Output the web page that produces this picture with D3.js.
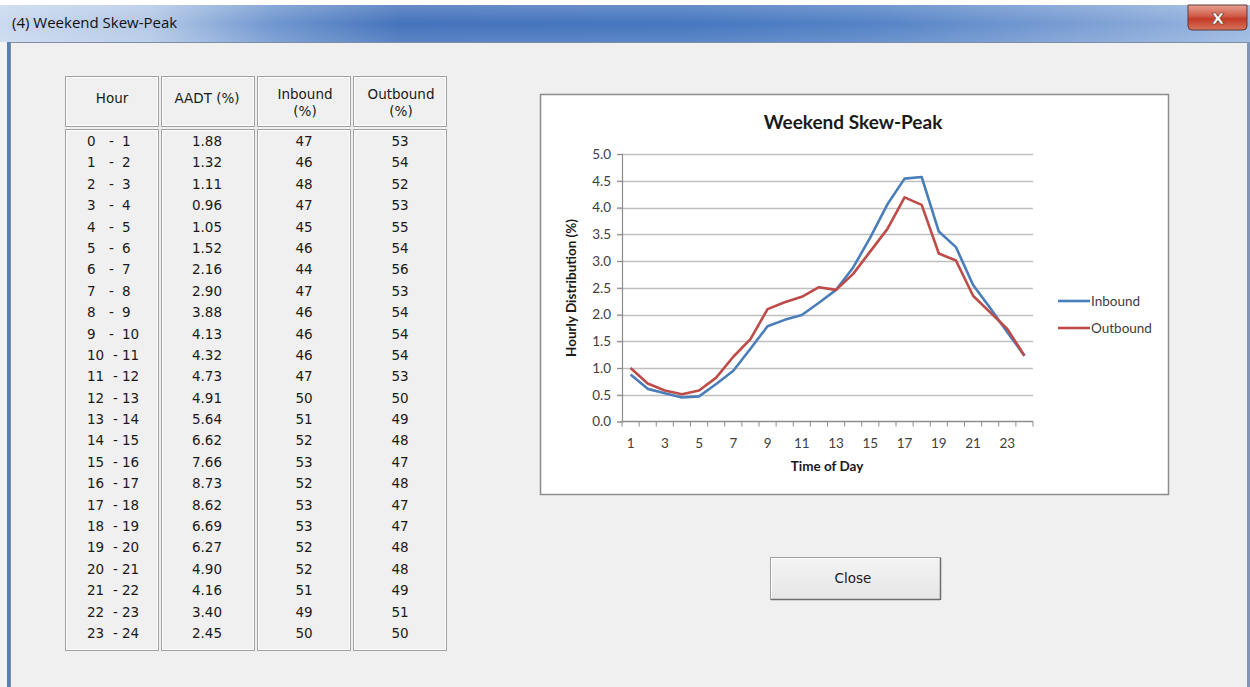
<!DOCTYPE html>
<html>
<head>
<meta charset="utf-8">
<script src="https://cdn.jsdelivr.net/npm/d3@7"></script>
<style>
  html, body { margin: 0; padding: 0; background: #f0f0f0; }
  svg { display: block; }
</style>
</head>
<body>
<svg id="root" width="1250" height="687"></svg>
<script>
// ---------- data ----------
const windowTitle = "(4) Weekend Skew-Peak";
const chartTitle = "Weekend Skew-Peak";
const tableHeaders = [["Hour"], ["AADT (%)"], ["Inbound", "(%)"], ["Outbound", "(%)"]];
const hourStart = [0,1,2,3,4,5,6,7,8,9,10,11,12,13,14,15,16,17,18,19,20,21,22,23];
const hourEnd   = [1,2,3,4,5,6,7,8,9,10,11,12,13,14,15,16,17,18,19,20,21,22,23,24];
const aadt = ["1.88","1.32","1.11","0.96","1.05","1.52","2.16","2.90","3.88","4.13","4.32","4.73","4.91","5.64","6.62","7.66","8.73","8.62","6.69","6.27","4.90","4.16","3.40","2.45"];
const inboundPct  = [47,46,48,47,45,46,44,47,46,46,46,47,50,51,52,53,52,53,53,52,52,51,49,50];
const outboundPct = [53,54,52,53,55,54,56,53,54,54,54,53,50,49,48,47,48,47,47,48,48,49,51,50];
// chart series (hourly distribution, %)
const timeOfDay = [1,2,3,4,5,6,7,8,9,10,11,12,13,14,15,16,17,18,19,20,21,22,23,24];
const inboundSeries  = [0.88,0.61,0.53,0.45,0.47,0.70,0.95,1.36,1.78,1.90,1.99,2.22,2.46,2.88,3.44,4.06,4.54,4.57,3.55,3.26,2.55,2.12,1.67,1.23];
const outboundSeries = [1.00,0.71,0.58,0.51,0.58,0.82,1.21,1.54,2.10,2.23,2.33,2.51,2.46,2.76,3.18,3.60,4.19,4.05,3.14,3.01,2.35,2.04,1.73,1.23];
const yTicks = [0,0.5,1,1.5,2,2.5,3,3.5,4,4.5,5];
const xTickLabels = [1,3,5,7,9,11,13,15,17,19,21,23];
const seriesNames = ["Inbound", "Outbound"];
const seriesColors = ["#4a7ebb", "#be4b48"];
const buttonLabel = "Close";

const svg = d3.select("#root");
const defs = svg.append("defs");

// ---------- window chrome ----------
svg.append("rect").attr("x",0).attr("y",0).attr("width",1250).attr("height",687).attr("fill","#f0f0f0");
svg.append("rect").attr("x",0).attr("y",0).attr("width",1250).attr("height",5).attr("fill","#ffffff");

const tg = defs.append("linearGradient").attr("id","titleGrad").attr("x1","0").attr("x2","1").attr("y1","0").attr("y2","0");
[["0%","#c9d9ee"],["12%","#b4c9e7"],["22%","#6f96cf"],["32%","#4573bb"],["55%","#4677bf"],["70%","#5583c6"],["88%","#7ea1d5"],["100%","#9ab7e1"]]
  .forEach(([o,c]) => tg.append("stop").attr("offset",o).attr("stop-color",c));
svg.append("rect").attr("x",0).attr("y",5).attr("width",1250).attr("height",37).attr("fill","url(#titleGrad)");
const tv = defs.append("linearGradient").attr("id","titleShade").attr("x1","0").attr("x2","0").attr("y1","0").attr("y2","1");
tv.append("stop").attr("offset","0%").attr("stop-color","#ffffff").attr("stop-opacity",0.18);
tv.append("stop").attr("offset","50%").attr("stop-color","#ffffff").attr("stop-opacity",0.0);
tv.append("stop").attr("offset","100%").attr("stop-color","#ffffff").attr("stop-opacity",0.12);
svg.append("rect").attr("x",0).attr("y",5).attr("width",1250).attr("height",37).attr("fill","url(#titleShade)");

// left / right blue borders
svg.append("rect").attr("x",0).attr("y",42).attr("width",7).attr("height",645).attr("fill","#f3f3f3");
svg.append("rect").attr("x",7).attr("y",42).attr("width",3).attr("height",645).attr("fill","#5a7fb5");
svg.append("rect").attr("x",1247).attr("y",42).attr("width",3).attr("height",645).attr("fill","#7f96b8");
// content frame line
svg.append("line").attr("x1",10).attr("x2",1247).attr("y1",42.5).attr("y2",42.5).attr("stroke","#7d8ea6");
svg.append("line").attr("x1",10.5).attr("x2",10.5).attr("y1",42).attr("y2",687).attr("stroke","#7d8ea6");

svg.append("text").attr("x",12).attr("y",28).text(windowTitle)
  .attr("font-family","'Open Sans', 'DejaVu Sans', sans-serif").attr("font-size",15).attr("fill","#111");

// close X button
const xg = defs.append("linearGradient").attr("id","xGrad").attr("x1","0").attr("x2","0").attr("y1","0").attr("y2","1");
[["0%","#e8a293"],["45%","#cf5a46"],["55%","#c33a26"],["100%","#d9735c"]].forEach(([o,c]) => xg.append("stop").attr("offset",o).attr("stop-color",c));
svg.append("path").attr("d","M1188,5 L1247,5 L1247,26 Q1247,30 1243,30 L1192,30 Q1188,30 1188,26 Z")
  .attr("fill","url(#xGrad)").attr("stroke","#5d3a38").attr("stroke-width",1);
svg.append("text").attr("x",1218).attr("y",24).attr("text-anchor","middle").text("x")
  .attr("font-family","'DejaVu Sans', sans-serif").attr("font-weight","bold").attr("font-size",20)
  .attr("fill","#ffffff").attr("stroke","#6a3a36").attr("stroke-width",0.7);

// ---------- table ----------
const tableFont = "'DejaVu Sans', sans-serif";
const tableSize = 13.5;
const colX = [65, 161, 257, 353];
const colW = 94;
const headerTop = 76, headerBot = 127, bodyTop = 129, bodyBot = 651;

function box(x, y, w, h) {
  svg.append("rect").attr("x",x+0.5).attr("y",y+0.5).attr("width",w-1).attr("height",h-1)
    .attr("fill","#f0f0f0").attr("stroke","#a0a0a0").attr("stroke-width",1);
  svg.append("rect").attr("x",x+1.5).attr("y",y+1.5).attr("width",w-3).attr("height",h-3)
    .attr("fill","none").attr("stroke","#ffffff").attr("stroke-width",1);
}
colX.forEach(x => { box(x, headerTop, colW, headerBot-headerTop); box(x, bodyTop, colW, bodyBot-bodyTop); });

const headerCenters = [112, 207, 305, 401];
tableHeaders.forEach((lines, i) => {
  const startY = lines.length === 1 ? 103 : 99;
  lines.forEach((ln, j) => {
    svg.append("text").attr("x", headerCenters[i]).attr("y", startY + j*17).attr("text-anchor","middle")
      .attr("font-family", tableFont).attr("font-size", tableSize).attr("fill","#1a1a1a").text(ln);
  });
});
// clip bottom of header box
svg.append("rect").attr("x",60).attr("y",127).attr("width",390).attr("height",2).attr("fill","#f0f0f0");

const rowY = d3.scaleLinear().domain([0, 23]).range([146, 638]);
hourStart.forEach((h, i) => {
  const y = rowY(i);
  const g = svg.append("g").attr("font-family", tableFont).attr("font-size", tableSize).attr("fill","#1a1a1a");
  g.append("text").attr("x", 87).attr("y", y).text(h);
  g.append("text").attr("x", h < 10 ? 109 : 113).attr("y", y).text("-");
  g.append("text").attr("x", 122).attr("y", y).text(hourEnd[i]);
  g.append("text").attr("x", 207).attr("y", y).attr("text-anchor","middle").text(aadt[i]);
  g.append("text").attr("x", 304).attr("y", y).attr("text-anchor","middle").text(inboundPct[i]);
  g.append("text").attr("x", 400).attr("y", y).attr("text-anchor","middle").text(outboundPct[i]);
});

// ---------- chart ----------
const chartFont = "Lato, 'Open Sans', sans-serif";
svg.append("rect").attr("x",540.5).attr("y",94.5).attr("width",628).attr("height",400)
  .attr("fill","#ffffff").attr("stroke","#8c8c8c").attr("stroke-width",1.5);

svg.append("text").attr("x",853).attr("y",129).attr("text-anchor","middle")
  .attr("font-family",chartFont).attr("font-weight","bold").attr("font-size",19).attr("fill","#1a1a1a").text(chartTitle);

const plotL = 622, plotR = 1033, plotT = 154, plotB = 421.5;
const y = d3.scaleLinear().domain([0, 5]).range([plotB, plotT]);
const xBand = d3.scaleBand().domain(timeOfDay).range([plotL, plotR]).paddingInner(0).paddingOuter(0);
const xc = d => xBand(d) + xBand.bandwidth()/2;

// gridlines
svg.append("g").selectAll("line").data(yTicks.filter(t => t > 0)).join("line")
  .attr("x1", plotL - 5).attr("x2", plotR).attr("y1", d => Math.round(y(d))+0.5).attr("y2", d => Math.round(y(d))+0.5)
  .attr("stroke","#bfbfbf").attr("stroke-width",1.3);

// y axis
const yAxis = d3.axisLeft(y).tickValues(yTicks).tickFormat(d3.format(".1f")).tickSize(5).tickPadding(6);
const ya = svg.append("g").attr("transform",`translate(${plotL},0)`).call(yAxis);
ya.select(".domain").attr("stroke","#8c8c8c").attr("stroke-width",1.2);
ya.selectAll(".tick line").attr("stroke","#8c8c8c");
ya.selectAll(".tick text").attr("font-family",chartFont).attr("font-size",13.5).attr("fill","#404040");

// x axis
const xAxisG = svg.append("g").attr("transform",`translate(0,${plotB})`);
xAxisG.append("line").attr("x1",plotL).attr("x2",plotR).attr("y1",0).attr("y2",0).attr("stroke","#8c8c8c").attr("stroke-width",1.3);
const boundaries = timeOfDay.map(d => xBand(d)).concat([plotR]);
xAxisG.selectAll("line.tk").data(boundaries).join("line").attr("class","tk")
  .attr("x1", d => d).attr("x2", d => d).attr("y1", 0).attr("y2", 5).attr("stroke","#8c8c8c");
xAxisG.selectAll("text").data(xTickLabels).join("text")
  .attr("x", d => xc(d)).attr("y", 26).attr("text-anchor","middle")
  .attr("font-family",chartFont).attr("font-size",13.5).attr("fill","#404040").text(d => d);

svg.append("text").attr("x",827).attr("y",471).attr("text-anchor","middle")
  .attr("font-family",chartFont).attr("font-weight","bold").attr("font-size",13.5).attr("fill","#1a1a1a").text("Time of Day");
svg.append("text").attr("transform","translate(576,288) rotate(-90)").attr("text-anchor","middle")
  .attr("font-family",chartFont).attr("font-weight","bold").attr("font-size",13.5).attr("fill","#1a1a1a").text("Hourly Distribution (%)");

// lines
const line = d3.line().x((d, i) => xc(timeOfDay[i])).y(d => y(d));
[inboundSeries, outboundSeries].forEach((s, k) => {
  svg.append("path").datum(s).attr("d", line).attr("fill","none")
    .attr("stroke", seriesColors[k]).attr("stroke-width", 2.6).attr("stroke-linejoin","round");
});

// legend
seriesNames.forEach((n, k) => {
  const ly = 301 + k*27;
  svg.append("line").attr("x1",1058).attr("x2",1090).attr("y1",ly).attr("y2",ly)
    .attr("stroke",seriesColors[k]).attr("stroke-width",2.6);
  svg.append("text").attr("x",1091).attr("y",ly+4.5).attr("font-family",chartFont).attr("font-size",13.5)
    .attr("fill","#404040").text(n);
});

// ---------- Close button ----------
const bg = defs.append("linearGradient").attr("id","btnGrad").attr("x1","0").attr("x2","0").attr("y1","0").attr("y2","1");
bg.append("stop").attr("offset","0%").attr("stop-color","#f4f4f4");
bg.append("stop").attr("offset","100%").attr("stop-color","#e6e6e6");
svg.append("rect").attr("x",770.5).attr("y",557.5).attr("width",170).attr("height",42)
  .attr("fill","url(#btnGrad)").attr("stroke","#a0a0a0");
svg.append("line").attr("x1",771).attr("x2",940).attr("y1",599.5).attr("y2",599.5).attr("stroke","#6d6d6d").attr("stroke-width",1.5);
svg.append("line").attr("x1",940.5).attr("x2",940.5).attr("y1",558).attr("y2",600).attr("stroke","#6d6d6d").attr("stroke-width",1.5);
svg.append("line").attr("x1",771).attr("x2",939).attr("y1",558.5).attr("y2",558.5).attr("stroke","#ffffff");
svg.append("line").attr("x1",771.5).attr("x2",771.5).attr("y1",558).attr("y2",598).attr("stroke","#ffffff");
svg.append("text").attr("x",853).attr("y",583).attr("text-anchor","middle")
  .attr("font-family",tableFont).attr("font-size",tableSize).attr("fill","#1a1a1a").text(buttonLabel);
</script>
</body>
</html>
